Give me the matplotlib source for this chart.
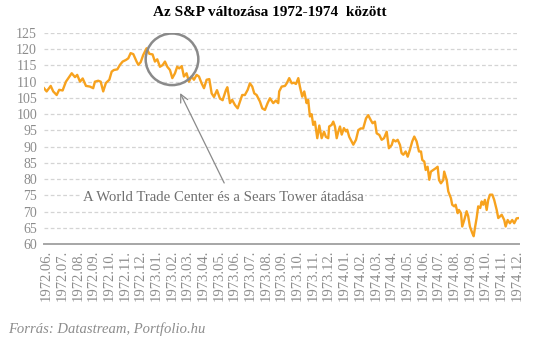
import numpy as np
from matplotlib import pyplot as plt
from matplotlib.patches import Ellipse

# S&P 500, 1972.06 - 1974.12 (x: months since 1972.06)
months = [-0.17, 0.00, 0.26, 0.42, 0.64, 0.80, 1.02, 1.23, 1.49, 1.60, 1.81, 1.95,
          2.13, 2.30, 2.51, 2.76, 2.97, 3.08, 3.29, 3.45, 3.61, 3.78, 4.00, 4.15,
          4.29, 4.51, 4.68, 4.85, 5.06, 5.21, 5.36, 5.53, 5.74, 5.85, 6.00, 6.16,
          6.38, 6.55, 6.76, 6.91, 7.06, 7.23, 7.40, 7.55, 7.70, 7.87, 8.02, 8.19,
          8.33, 8.46, 8.62, 8.76, 8.93, 9.08, 9.25, 9.40, 9.57, 9.72, 9.89, 10.04,
          10.21, 10.38, 10.53, 10.68, 10.87, 11.06, 11.23, 11.44, 11.53, 11.70, 11.84, 12.02,
          12.19, 12.34, 12.48, 12.65, 12.83, 12.97, 13.12, 13.25, 13.40, 13.61, 13.76, 13.93,
          14.10, 14.25, 14.46, 14.63, 14.78, 14.84, 15.00, 15.21, 15.32, 15.48, 15.64, 15.78,
          15.91, 16.06, 16.16, 16.31, 16.44, 16.59, 16.69, 16.80, 16.91, 17.01, 17.12, 17.27,
          17.40, 17.55, 17.70, 17.82, 17.97, 18.03, 18.19, 18.29, 18.40, 18.51, 18.61, 18.72,
          18.83, 18.97, 19.10, 19.18, 19.31, 19.46, 19.57, 19.74, 19.89, 20.04, 20.20, 20.38,
          20.52, 20.68, 20.80, 20.95, 21.06, 21.23, 21.38, 21.53, 21.70, 21.84, 22.02, 22.12,
          22.27, 22.40, 22.55, 22.65, 22.76, 22.91, 23.04, 23.18, 23.33, 23.46, 23.61, 23.76,
          23.89, 23.97, 24.10, 24.19, 24.31, 24.42, 24.52, 24.67, 24.82, 24.95, 25.04, 25.16,
          25.31, 25.37, 25.53, 25.63, 25.80, 25.88, 26.01, 26.10, 26.23, 26.31, 26.44, 26.52,
          26.65, 26.80, 26.90, 27.01, 27.16, 27.25, 27.33, 27.44, 27.54, 27.67, 27.76, 27.86,
          27.97, 28.08, 28.18, 28.29, 28.44, 28.56, 28.72, 28.82, 28.93, 29.04, 29.20, 29.29,
          29.42, 29.56, 29.71, 29.84, 29.99, 30.14]
spx = [108.0, 107.0, 108.7, 107.0, 105.9, 107.5, 107.3, 110.0, 111.8, 112.6, 111.4, 112.1,
       110.0, 111.0, 108.7, 108.5, 108.0, 110.0, 110.3, 110.0, 107.0, 109.6, 110.6, 113.1,
       113.6, 113.8, 115.2, 116.2, 116.7, 117.2, 118.8, 118.5, 116.2, 115.2, 116.0, 118.2,
       120.3, 118.6, 118.4, 116.2, 116.9, 114.6, 115.1, 116.2, 114.6, 113.6, 111.1, 112.6,
       114.6, 114.1, 114.8, 111.6, 112.6, 110.0, 111.6, 110.6, 112.1, 111.6, 109.5, 108.0,
       110.6, 110.8, 106.4, 105.3, 107.4, 104.8, 104.3, 107.4, 108.3, 103.4, 104.4, 102.8,
       101.8, 103.9, 105.9, 105.9, 107.5, 109.5, 108.5, 106.4, 105.9, 103.9, 101.8, 101.3,
       103.4, 104.9, 103.4, 104.2, 103.4, 107.0, 108.5, 108.7, 109.5, 111.1, 109.5, 109.7,
       109.3, 111.1, 108.5, 105.4, 107.0, 103.4, 104.4, 99.3, 100.0, 96.7, 97.7, 92.6,
       96.5, 92.6, 94.6, 93.0, 92.6, 96.2, 96.7, 97.7, 96.2, 92.6, 94.6, 96.2,
       93.7, 95.7, 94.7, 95.2, 93.0, 91.6, 90.6, 92.1, 95.1, 95.6, 95.6, 98.7,
       99.7, 98.2, 97.2, 97.7, 94.1, 93.6, 92.1, 92.6, 94.6, 89.5, 90.5, 92.1,
       91.6, 92.1, 90.5, 88.0, 87.5, 88.5, 86.9, 89.0, 91.6, 93.1, 91.6, 88.5,
       88.5, 85.9, 85.4, 82.8, 83.8, 79.8, 82.3, 82.8, 83.3, 83.8, 79.7, 78.7,
       79.7, 82.3, 79.7, 76.2, 74.1, 72.1, 71.6, 72.1, 69.5, 70.5, 69.5, 65.4,
       67.4, 70.1, 68.6, 65.4, 63.4, 62.4, 64.9, 68.0, 71.6, 71.1, 73.1, 72.1,
       73.6, 70.5, 73.6, 75.2, 75.2, 73.6, 70.5, 68.0, 68.5, 69.0, 67.4, 65.4,
       67.4, 66.4, 67.4, 66.4, 67.9, 68.0]

labels = []
for y in [1972, 1973, 1974]:
    for m in range(1, 13):
        if y == 1972 and m < 6:
            continue
        labels.append("%d.%02d." % (y, m))

serif = ['Liberation Serif', 'DejaVu Serif']
grey = '#8c8c8c'

fig = plt.figure(figsize=(5.35, 3.42), dpi=100)
ax = fig.add_axes([0.0822, 0.2865, 0.8878, 0.617])

ax.plot(months, spx, color='#F7A21E', lw=1.7, zorder=3)

ax.set_xlim(-0.17, 30.14)
ax.set_ylim(60, 125)
ax.set_yticks(np.arange(60, 126, 5))
ax.set_xticks(range(len(labels)))
ax.set_xticklabels(labels, rotation=90, family=serif, fontsize=10.5, color=grey)
for t in ax.get_yticklabels():
    t.set_family(serif)
    t.set_fontsize(10)
    t.set_color(grey)
ax.tick_params(length=0, pad=5)
ax.tick_params(axis='x', pad=4)

ax.grid(axis='y', color='#d4d4d4', lw=0.9, ls=(0, (3, 2)))
ax.set_axisbelow(True)
for s in ['left', 'right', 'top']:
    ax.spines[s].set_visible(False)
ax.spines['bottom'].set_color('#a6a6a6')
ax.spines['bottom'].set_linewidth(1.4)

# circle + arrow annotation
ax.add_patch(Ellipse((8.0, 116.9), 3.36, 15.9, fill=False, ec='#8a8a8a', lw=1.8, zorder=4))
ax.annotate('', xy=(8.52, 106.5), xytext=(11.33, 78.8),
            arrowprops=dict(arrowstyle='->', color='#8a8a8a', lw=0.9,
                            mutation_scale=14, shrinkA=0, shrinkB=0))
ax.text(2.32, 74.2, "A World Trade Center és a Sears Tower átadása", family=serif,
        fontsize=10.6, color='#707070', ha='left', va='center',
        bbox=dict(fc='white', ec='none', pad=1), zorder=5)

fig.text(0.505, 0.962, "Az S&P változása 1972-1974  között", family=serif,
         fontsize=11, fontweight='bold', ha='center', va='center')
fig.text(0.015, 0.038, "Forrás: Datastream, Portfolio.hu", family=serif,
         fontsize=10.5, style='italic', color=grey, ha='left', va='center')

plt.savefig('out.png', dpi=100)
